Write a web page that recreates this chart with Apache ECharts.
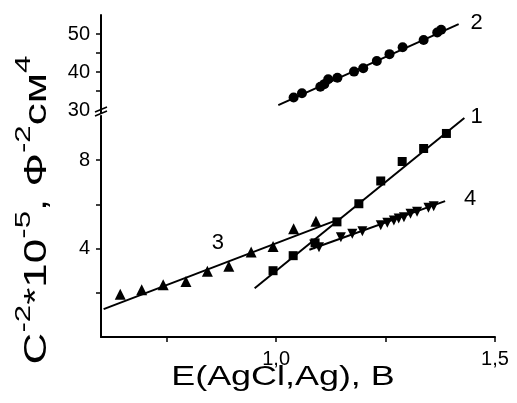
<!DOCTYPE html>
<html>
<head>
<meta charset="utf-8">
<script src="https://cdn.jsdelivr.net/npm/echarts@6/dist/echarts.min.js"></script>
<style>
  html, body { margin: 0; padding: 0; background: #fff; }
  #chart { width: 517px; height: 403px; }
</style>
</head>
<body>
<div id="chart"></div>
<script>
// curve 1 (squares) and its fit line, lower panel
var pts1 = [[0.993, 3.00], [1.039, 3.68], [1.089, 4.26], [1.139, 5.21], [1.189, 6.03],
            [1.239, 7.06], [1.288, 7.94], [1.337, 8.53], [1.389, 9.21]];
var fit1 = [[0.951, 2.21], [1.430, 9.91]];

// curve 2 (circles) and its fit line, upper panel
var pts2 = [[1.040, 33.3], [1.059, 34.4], [1.101, 36.1], [1.110, 36.8], [1.119, 38.1],
            [1.140, 38.5], [1.178, 40.1], [1.199, 41.0], [1.230, 42.9], [1.259, 44.7],
            [1.289, 46.5], [1.337, 48.4], [1.368, 50.4], [1.377, 51.1]];
var fit2 = [[1.005, 31.3], [1.417, 52.6]];

// curve 3 (triangles up)
var pts3 = [[0.644, 1.94], [0.693, 2.14], [0.742, 2.36], [0.794, 2.51], [0.843, 2.97],
            [0.892, 3.20], [0.943, 3.85], [0.993, 4.10], [1.040, 4.90], [1.091, 5.24]];
var fit3 = [[0.606, 1.26], [1.143, 5.32]];

// curve 4 (triangles down)
var pts4 = [[1.087, 4.18], [1.098, 4.06], [1.148, 4.51], [1.174, 4.67], [1.197, 4.79],
            [1.239, 5.06], [1.254, 5.17], [1.269, 5.27], [1.280, 5.36], [1.292, 5.42],
            [1.307, 5.58], [1.322, 5.67], [1.348, 5.85], [1.360, 5.92]];
var fit4 = [[1.076, 3.95], [1.386, 6.15]];

// curve numbers
var lowLabels = [[1.458, 9.97, '1'], [0.867, 4.26, '3'], [1.443, 6.26, '4']];
var upLabels = [[1.458, 52.8, '2']];

// ticks and tick labels
var xTicks = [0.75, 1.0, 1.25, 1.5];
var xTickLabels = [1.0, 1.5];
var yLowTicks = [2, 4, 6, 8];
var yLowLabels = [4, 8];
var yUpTicks = [35, 40, 45, 50];
var yUpLabels = [30, 40, 50];

var FONT = 'Liberation Sans';
var INK = '#000';

var chart = echarts.init(document.getElementById('chart'));

function axisLineStyle() {
    return { show: true, lineStyle: { color: INK, width: 2 } };
}
function fitLine(data, xi, yi) {
    return {
        type: 'line', data: data, xAxisIndex: xi, yAxisIndex: yi,
        symbol: 'none', silent: true, animation: false,
        lineStyle: { color: INK, width: 2 }
    };
}
function dots(data, xi, yi, symbol, size, rot) {
    return {
        type: 'scatter', data: data, xAxisIndex: xi, yAxisIndex: yi,
        symbol: symbol, symbolSize: size, symbolRotate: rot || 0,
        itemStyle: { color: INK, opacity: 1 }, animation: false
    };
}
function numbers(data, xi, yi) {
    return {
        type: 'scatter', data: data, xAxisIndex: xi, yAxisIndex: yi,
        symbolSize: 0, clip: false, animation: false,
        itemStyle: { opacity: 1 },
        label: {
            show: true, position: 'inside', color: INK, fontFamily: FONT, fontSize: 22,
            formatter: function (p) { return p.value[2]; }
        }
    };
}

var option = {
    backgroundColor: '#fff',
    grid: [
        { left: 101, right: 22, top: 116, bottom: 66 },
        { left: 101, right: 22, top: 15, height: 95 }
    ],
    xAxis: [
        {
            gridIndex: 0, type: 'value', min: 0.6, max: 1.5,
            axisLine: axisLineStyle(),
            axisTick: { show: true, customValues: xTicks, length: 5, lineStyle: { color: INK, width: 1.5 } },
            axisLabel: {
                customValues: xTickLabels, margin: 12, color: INK, fontFamily: FONT, fontSize: 20,
                formatter: function (v) { return v.toFixed(1).replace('.', ','); }
            },
            splitLine: { show: false }
        },
        { gridIndex: 1, type: 'value', min: 0.6, max: 1.5, show: false }
    ],
    yAxis: [
        {
            gridIndex: 0, type: 'value', min: 0, max: 10,
            axisLine: axisLineStyle(),
            axisTick: { show: true, customValues: yLowTicks, length: 5, lineStyle: { color: INK, width: 1.5 } },
            axisLabel: { customValues: yLowLabels, margin: 11, color: INK, fontFamily: FONT, fontSize: 20 },
            splitLine: { show: false }
        },
        {
            gridIndex: 1, type: 'value', min: 30, max: 55,
            axisLine: axisLineStyle(),
            axisTick: { show: true, customValues: yUpTicks, length: 5, lineStyle: { color: INK, width: 1.5 } },
            axisLabel: { customValues: yUpLabels, margin: 11, color: INK, fontFamily: FONT, fontSize: 20 },
            splitLine: { show: false }
        }
    ],
    graphic: [
        // axis break
        { type: 'line', shape: { x1: 101, y1: 109, x2: 101, y2: 117 }, style: { stroke: INK, lineWidth: 2 } },
        { type: 'line', shape: { x1: 95, y1: 112, x2: 107, y2: 107 }, style: { stroke: INK, lineWidth: 1.5 } },
        { type: 'line', shape: { x1: 95, y1: 117, x2: 107, y2: 112 }, style: { stroke: '#fff', lineWidth: 2 } },
        { type: 'line', shape: { x1: 95, y1: 116, x2: 107, y2: 111 }, style: { stroke: INK, lineWidth: 1.5 } },
        {
            type: 'text', x: 283, y: 378, scaleX: 1.33,
            style: {
                text: 'E(AgCl,Ag), В', fill: INK, fontFamily: FONT, fontSize: 27,
                align: 'center', verticalAlign: 'middle'
            }
        },
        {
            type: 'text', x: 33, y: 210, rotation: Math.PI / 2, scaleX: 1.42,
            style: {
                text: '{a|C}{s|-2}{a|*10}{s|-5}{a|, Ф}{s|-2}{a|см}{s|4}',
                align: 'center', verticalAlign: 'middle',
                rich: {
                    a: { fontFamily: FONT, fontSize: 31, fill: INK, lineHeight: 40, verticalAlign: 'bottom' },
                    s: { fontFamily: FONT, fontSize: 22, fill: INK, lineHeight: 22, verticalAlign: 'top' }
                }
            }
        }
    ],
    series: [
        fitLine(fit1, 0, 0), dots(pts1, 0, 0, 'rect', 9),
        fitLine(fit2, 1, 1), dots(pts2, 1, 1, 'circle', 10),
        fitLine(fit3, 0, 0), dots(pts3, 0, 0, 'triangle', 11),
        fitLine(fit4, 0, 0), dots(pts4, 0, 0, 'triangle', 10, 180),
        numbers(lowLabels, 0, 0), numbers(upLabels, 1, 1)
    ]
};
chart.setOption(option);
</script>
</body>
</html>
